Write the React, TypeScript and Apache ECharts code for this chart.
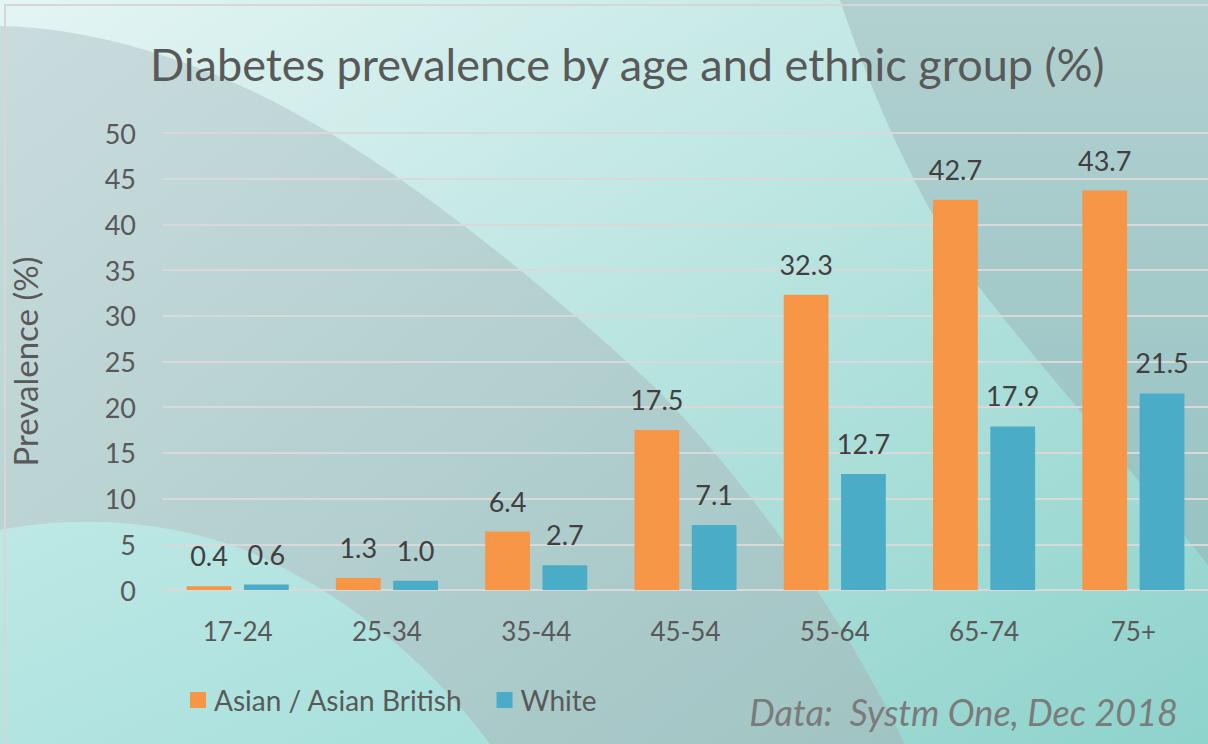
import React, { useEffect, useRef } from "react";
import * as echarts from "echarts";

const categories = ["17-24", "25-34", "35-44", "45-54", "55-64", "65-74", "75+"];
const asianValues = [0.4, 1.3, 6.4, 17.5, 32.3, 42.7, 43.7];
const whiteValues = [0.6, 1.0, 2.7, 7.1, 12.7, 17.9, 21.5];
const seriesNames = ["Asian / Asian British", "White"];
const titleText = "Diabetes prevalence by age and ethnic group (%)";
const yAxisName = "Prevalence (%)";
const footerText = "Data:  Systm One, Dec 2018";

const FONT = "Lato, 'Open Sans', sans-serif";

echarts.graphic.registerShape(
  "bgGray",
  echarts.graphic.extendPath(
    "M0,26 C110,28 230,72 330,133 C440,200 560,300 645,378 C740,470 840,610 905,744 L0,744 Z",
    {}
  )
);
echarts.graphic.registerShape(
  "bgRight",
  echarts.graphic.extendPath(
    "M840,0 C870,90 920,210 985,295 C1060,390 1140,480 1208,565 L1208,0 Z",
    {}
  )
);
echarts.graphic.registerShape(
  "bgHill",
  echarts.graphic.extendPath(
    "M0,530 C60,518 150,515 240,548 C330,585 420,650 490,744 L0,744 Z",
    {}
  )
);

export default function App() {
  const ref = useRef<HTMLDivElement>(null);
  useEffect(() => {
    document.body.style.margin = "0";
    const chart = echarts.init(ref.current!, null, { renderer: "svg" });
    const lin = (x1: number, y1: number, x2: number, y2: number, c1: string, c2: string) =>
      new echarts.graphic.LinearGradient(x1, y1, x2, y2, [
        { offset: 0, color: c1 },
        { offset: 1, color: c2 },
      ]);
    const labelCfg = {
      show: true,
      position: "top",
      distance: 17,
      fontSize: 27,
      color: "#404040",
      fontFamily: FONT,
      formatter: (p: any) => Number(p.value).toFixed(1),
    };
    chart.setOption({
      animation: false,
      textStyle: { fontFamily: FONT },
      graphic: [
        {
          type: "rect",
          z: -100,
          silent: true,
          shape: { x: 0, y: 0, width: 1208, height: 744 },
          style: { fill: lin(0, 0, 1, 1, "#e4f5f4", "#8ed3cc") },
        },
        {
          type: "bgGray",
          z: -99,
          silent: true,
          style: { fill: lin(0, 0, 1, 1, "#cadcdd", "#a0c4c3") },
        },
        {
          type: "bgRight",
          z: -98,
          silent: true,
          style: { fill: lin(0, 0, 0, 1, "#b2d0d0", "#97c3c3") },
        },
        {
          type: "bgHill",
          z: -97,
          silent: true,
          style: { fill: lin(0, 0, 1, 1, "#bde8e5", "#a8e0dc") },
        },
        {
          type: "polyline",
          z: -90,
          silent: true,
          shape: { points: [[5, 760], [5, 5], [1220, 5]] },
          style: { stroke: "#d6d6d6", lineWidth: 2, fill: null },
        },
        {
          type: "text",
          z: 10,
          left: 150,
          top: 41,
          style: {
            text: titleText,
            font: `45px ${FONT}`,
            fill: "#595959",
          },
        },
        {
          type: "text",
          z: 10,
          right: 30,
          top: 694,
          style: {
            text: footerText,
            font: `italic 36px ${FONT}`,
            fill: "#7b7b7b",
          },
        },
      ],
      legend: {
        left: 185,
        top: 681,
        itemWidth: 16,
        itemHeight: 16,
        itemGap: 34,
        icon: "rect",
        data: seriesNames,
        textStyle: { fontSize: 28, color: "#595959", fontFamily: FONT, padding: [0, 0, 0, 3] },
      },
      grid: { left: 162, right: 0, top: 133, bottom: 154, containLabel: false },
      xAxis: {
        type: "category",
        data: categories,
        axisLine: { lineStyle: { color: "#d9d9d9", width: 2 } },
        axisTick: { show: false },
        axisLabel: { fontSize: 26, color: "#595959", margin: 28, fontFamily: FONT },
      },
      yAxis: {
        type: "value",
        min: 0,
        max: 50,
        interval: 5,
        name: yAxisName,
        nameLocation: "middle",
        nameRotate: 90,
        nameGap: 122,
        nameTextStyle: { fontSize: 33, color: "#595959", fontFamily: FONT },
        axisLine: { show: false },
        axisTick: { show: false },
        axisLabel: { fontSize: 27, color: "#595959", margin: 27, fontFamily: FONT },
        splitLine: { lineStyle: { color: "#d9d9d9", width: 2 } },
      },
      series: [
        {
          name: seriesNames[0],
          type: "bar",
          data: asianValues,
          barWidth: "30%",
          barGap: "28%",
          itemStyle: { color: "#f79646" },
          label: labelCfg,
        },
        {
          name: seriesNames[1],
          type: "bar",
          data: whiteValues,
          barWidth: "30%",
          barGap: "28%",
          itemStyle: { color: "#4aacc6" },
          label: labelCfg,
        },
      ],
    });
    return () => chart.dispose();
  }, []);
  return <div ref={ref} style={{ width: 1208, height: 744 }} />;
}
